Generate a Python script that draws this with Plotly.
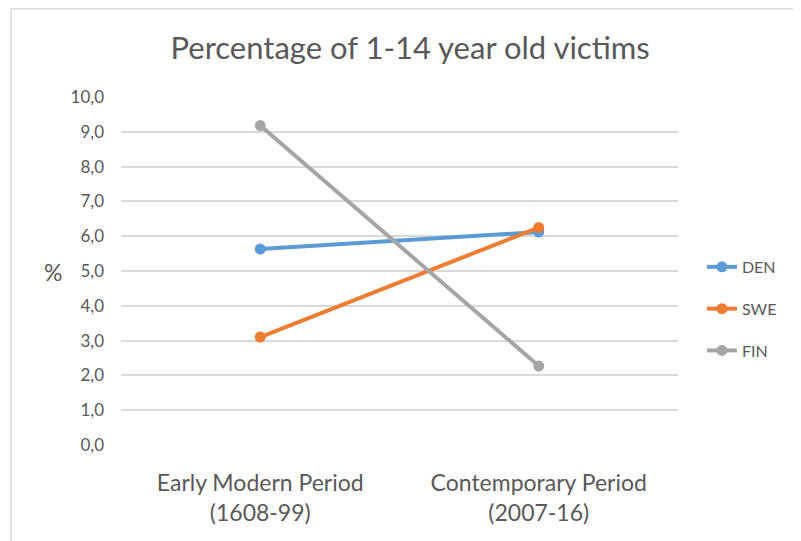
import plotly.graph_objects as go

periods = ["Early Modern Period<br>(1608-99)", "Contemporary Period<br>(2007-16)"]
den = [5.63, 6.12]
swe = [3.10, 6.25]
fin = [9.18, 2.27]
y_ticks = [0, 1, 2, 3, 4, 5, 6, 7, 8, 9, 10]

series = [("DEN", den, "#5B9BD5"), ("SWE", swe, "#ED7D31"), ("FIN", fin, "#A5A5A5")]

fig = go.Figure()
for name, vals, color in series:
    fig.add_trace(go.Scatter(
        x=periods,
        y=vals,
        name=name,
        legendgroup=name,
        mode="lines+markers",
        line=dict(color=color, width=4),
        marker=dict(color=color, size=11),
    ))

font = "Lato, 'Open Sans', sans-serif"

# page body adds 8px, so the margins are shifted to keep the plot area in place
fig.update_layout(
    width=801,
    height=541,
    margin=dict(l=113, r=131, t=89, b=104),
    paper_bgcolor="white",
    plot_bgcolor="white",
    separators=",.",
    font=dict(family=font, color="#595959"),
    title=dict(
        text="Percentage of 1-14 year old victims",
        x=0.502, xanchor="center",
        y=1 - 40 / 541, yanchor="middle",
        font=dict(size=31, color="#595959", family=font),
    ),
    xaxis=dict(
        type="category",
        range=[-0.5, 1.5],
        showgrid=False,
        showline=False,
        zeroline=False,
        ticks="",
        tickfont=dict(size=23, color="#595959"),
        ticklabelstandoff=22,
    ),
    yaxis=dict(
        range=[0, 10],
        tickvals=y_ticks,
        tickformat=".1f",
        showgrid=True,
        gridcolor="#D9D9D9",
        gridwidth=1.8,
        zeroline=False,
        showline=False,
        ticks="",
        tickfont=dict(size=17, color="#595959"),
        ticklabelstandoff=16,
    ),
    legend=dict(
        x=1.043, xanchor="left",
        y=0.391, yanchor="middle",
        font=dict(size=16, color="#595959"),
        tracegroupgap=18,
        traceorder="grouped",
        bgcolor="rgba(0,0,0,0)",
    ),
    annotations=[dict(
        text="%", xref="paper", yref="paper",
        x=-0.122, y=0.497, xanchor="center", yanchor="middle",
        showarrow=False,
        font=dict(size=23, color="#595959", family=font),
    )],
    shapes=[dict(
        type="rect", xref="paper", yref="paper",
        x0=(3 - 113) / 557, x1=(801 - 113) / 557 + 0.02,
        y0=-0.35, y1=(437 - 0.75) / 348,
        line=dict(color="#D9D9D9", width=1.5),
        fillcolor="rgba(0,0,0,0)",
        layer="below",
    )],
)

fig.write_html("out.html")
